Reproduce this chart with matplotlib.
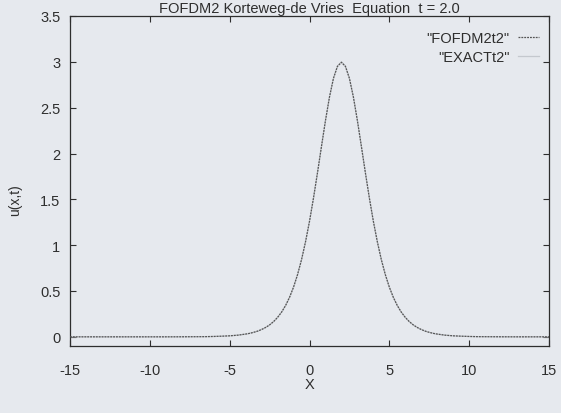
import matplotlib
matplotlib.use("Agg")
import matplotlib.pyplot as plt

plt.rcParams['font.family'] = ['Liberation Sans', 'DejaVu Sans']

title = "FOFDM2 Korteweg-de Vries  Equation  t = 2.0"
x_label = "X"
y_label = "u(x,t)"
series_names = ['"FOFDM2t2"', '"EXACTt2"']

x_vals = [-15.0, -14.0, -13.0, -12.0, -11.0, -10.0, -9.0, -8.0,
          -7.5, -7.0, -6.5, -6.0, -5.5, -5.0, -4.5,
          -4.0, -3.75, -3.5, -3.25, -3.0, -2.75, -2.5, -2.25, -2.0, -1.75,
          -1.5, -1.25, -1.0, -0.75, -0.5, -0.25, 0.0, 0.25, 0.5, 0.75,
          1.0, 1.25, 1.5, 1.75, 2.0, 2.25, 2.5, 2.75, 3.0, 3.25,
          3.5, 3.75, 4.0, 4.25, 4.5, 4.75, 5.0, 5.25, 5.5, 5.75,
          6.0, 6.25, 6.5, 6.75, 7.0, 7.25, 7.5, 7.75, 8.0,
          8.5, 9.0, 9.5, 10.0, 10.5, 11.0, 11.5, 12.0, 13.0, 14.0, 15.0]

u_exact = [0.000, 0.000, 0.000, 0.000, 0.000, 0.000, 0.000, 0.0005,
           0.001, 0.0015, 0.002, 0.004, 0.007, 0.011, 0.018,
           0.030, 0.038, 0.049, 0.062, 0.080, 0.102, 0.130, 0.166, 0.212, 0.269,
           0.341, 0.431, 0.542, 0.678, 0.841, 1.036, 1.260, 1.514, 1.790, 2.077,
           2.359, 2.615, 2.820, 2.954, 3.000, 2.954, 2.820, 2.615, 2.359, 2.077,
           1.790, 1.514, 1.260, 1.036, 0.841, 0.678, 0.542, 0.431, 0.341, 0.269,
           0.212, 0.166, 0.130, 0.102, 0.080, 0.062, 0.049, 0.038, 0.030,
           0.018, 0.011, 0.007, 0.004, 0.002, 0.0015, 0.001, 0.0005, 0.000, 0.000, 0.000]

u_fofdm2 = [0.000, 0.000, 0.000, 0.000, 0.000, 0.000, 0.000, 0.0005,
            0.001, 0.0015, 0.002, 0.004, 0.007, 0.011, 0.018,
            0.030, 0.038, 0.049, 0.062, 0.080, 0.102, 0.130, 0.166, 0.212, 0.269,
            0.341, 0.431, 0.542, 0.678, 0.841, 1.036, 1.260, 1.514, 1.790, 2.077,
            2.359, 2.615, 2.820, 2.950, 2.995, 2.950, 2.820, 2.615, 2.359, 2.077,
            1.790, 1.514, 1.260, 1.036, 0.841, 0.678, 0.542, 0.431, 0.341, 0.269,
            0.212, 0.166, 0.130, 0.102, 0.080, 0.062, 0.049, 0.038, 0.030,
            0.018, 0.011, 0.007, 0.004, 0.002, 0.0015, 0.001, 0.0005, 0.000, 0.000, 0.000]

x_ticks = [-15, -10, -5, 0, 5, 10, 15]
y_ticks = [0, 0.5, 1, 1.5, 2, 2.5, 3, 3.5]
y_tick_labels = ['0', '0.5', '1', '1.5', '2', '2.5', '3', '3.5']

bg = '#e6e9ee'
ink = '#2e2e2e'

fig = plt.figure(figsize=(5.61, 4.14), dpi=100, facecolor=bg)
ax = fig.add_axes([70/561, 1 - 347/414, (549 - 70)/561, (347 - 17)/414])
ax.set_facecolor(bg)

ax.plot(x_vals, u_exact, color='#c4c8ce', lw=0.9, label=series_names[1], zorder=2)
ax.plot(x_vals, u_fofdm2, color='#555555', lw=0.9, ls=(0, (1.5, 0.8)),
        label=series_names[0], zorder=3)

ax.set_xlim(-15, 15)
ax.set_ylim(-0.1, 3.5)
ax.set_xticks(x_ticks)
ax.set_xticklabels([str(v) for v in x_ticks])
ax.set_yticks(y_ticks)
ax.set_yticklabels(y_tick_labels)

ax.tick_params(direction='in', top=True, right=True, length=4, width=0.8,
               colors=ink, labelsize=10.5, pad=7)
ax.tick_params(axis='x', pad=12)
for s in ax.spines.values():
    s.set_color(ink)
    s.set_linewidth(0.9)

ax.set_xlabel(x_label, fontsize=10.5, color=ink, labelpad=0)
ax.set_ylabel(y_label, fontsize=10, color=ink)
ax.yaxis.set_label_coords(-0.100, 0.445)
fig.text(309/561, 1 - 9/414, title, ha='center', va='center', fontsize=10.5, color=ink)

handles, labels = ax.get_legend_handles_labels()
leg = ax.legend([handles[1], handles[0]], [labels[1], labels[0]],
                loc='upper right', frameon=False, markerfirst=False,
                handlelength=1.4, handletextpad=0.6, fontsize=10.5,
                labelspacing=0.35, borderaxespad=0.3,
                bbox_to_anchor=(1.0, 0.985))
for t in leg.get_texts():
    t.set_color(ink)
    t.set_ha('right')

fig.savefig('out.png', dpi=100, facecolor=bg)
